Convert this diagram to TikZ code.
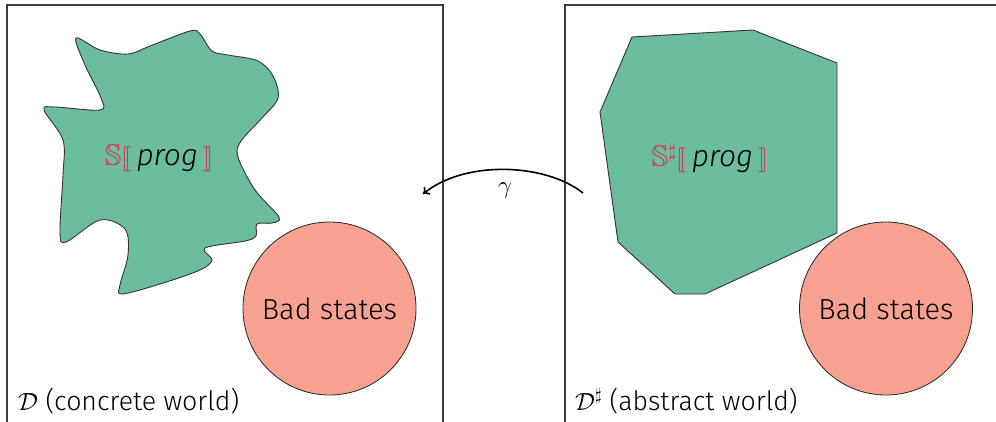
\documentclass[tikz,border=0pt]{standalone}
\usepackage{amssymb}
\usepackage{stmaryrd}
\usepackage{fontspec}
\setmainfont{Fira Sans Light}[ItalicFont={Fira Sans Light Italic}]
\usetikzlibrary{arrows.meta}
\definecolor{blobgreen}{RGB}{107,189,157}
\definecolor{badred}{RGB}{247,161,145}
\definecolor{semred}{RGB}{214,50,84}
\definecolor{framegray}{RGB}{60,60,60}
\begin{document}
\begin{tikzpicture}[x=1pt,y=-1pt,
  worldbox/.style={draw=framegray,line width=1.3pt},
  blob/.style={draw=black!80,line width=0.9pt,fill=blobgreen},
  bad/.style={circle,draw=black!85,line width=0.8pt,fill=badred,minimum size=173pt,inner sep=0pt,font=\fontsize{29}{32}\selectfont},
  sem/.style={font=\fontsize{30}{33}\selectfont},
  worldlabel/.style={anchor=base west,font=\fontsize{26.7}{30}\selectfont,inner sep=0pt}]
\useasboundingbox (0,0) rectangle (996,421);
\clip (0,0) rectangle (996,421);
% frames
\draw[worldbox] (7,5) rectangle (443,440);
\draw[worldbox] (565,5) rectangle (1001,440);
% concrete blob
\draw[blob] plot[smooth cycle,tension=0.55] coordinates {
 (76,38) (100,50) (128,54) (150,46) (190,31) (200,34) (212,51) (228,55)
 (258,61) (273,76) (278,98) (262,118) (241,141) (238,157) (255,190)
 (279,217) (272,223) (257,224) (256,236) (245,241) (205,248) (212,260)
 (200,270) (160,284) (122,294) (120,285) (128,255) (125,229) (100,220)
 (66,242) (60,232) (63,175) (63,140) (44,110) (55,107) (100,110)
 (101,98) (85,65)};
% abstract polygon
\draw[blob,line join=round] (632,37) -- (753,30) -- (837,63) -- (837,233)
  -- (705,294) -- (675,294) -- (618,242) -- (600,112) -- cycle;
% labels
\node[sem] (sc) at (159,158) {$\color{semred}\mathbb{S}\llbracket$\,\textit{prog}\,$\color{semred}\rrbracket$};
\node[sem] (sa) at (710,158) {$\color{semred}\mathbb{S}^{\sharp}\llbracket$\,\textit{prog}\,$\color{semred}\rrbracket$};
% bad states
\node[bad] (bc) at (329.5,308.5) {Bad states};
\node[bad] (ba) at (886,308.5) {Bad states};
% world labels
\node[worldlabel] (lc) at (18,410) {$\mathcal{D}$ (concrete world)};
\node[worldlabel] (la) at (575,410) {$\mathcal{D}^{\sharp}$ (abstract world)};
% gamma
\coordinate (gs) at (583,193);
\coordinate (ge) at (423,194);
\draw[line width=1.6pt,-{To[length=6pt,width=10pt]}] (gs) .. controls (545,163) and (465,160) .. (ge);
\node[font=\fontsize{27}{30}\selectfont] (gl) at (505,191) {$\gamma$};
\end{tikzpicture}
\end{document}
